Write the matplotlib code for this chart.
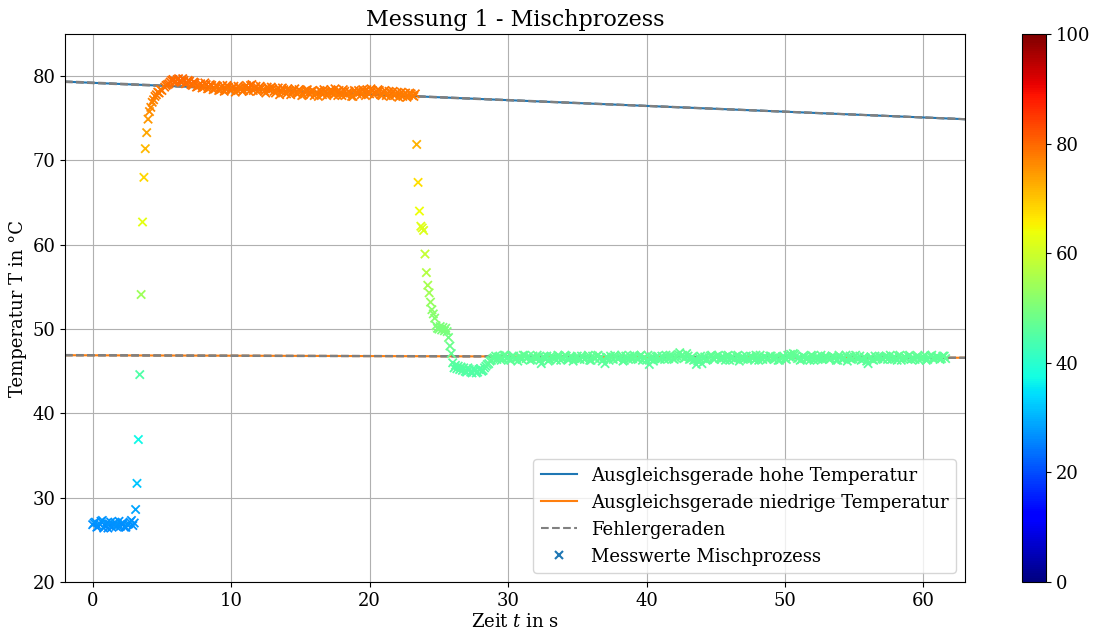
import numpy as np
import matplotlib
matplotlib.use("Agg")
import matplotlib.pyplot as plt
from matplotlib.lines import Line2D

plt.rcParams['font.family'] = ['DejaVu Serif']
plt.rcParams['mathtext.fontset'] = 'dejavuserif'
plt.rcParams['font.size'] = 13

# ---- data ----
t_cold = [0.0, 0.2, 0.4, 0.6, 0.8, 1.0, 1.2, 1.4, 1.6, 1.8, 2.0, 2.2, 2.4, 2.6, 2.8, 3.0]
T_cold = [26.8, 27.1, 26.6, 27.2, 26.4, 27.0, 26.9, 26.5, 27.1, 26.7, 26.6, 27.0, 26.5, 26.9, 27.3, 27.0]
t_cold2 = [0.1, 0.3, 0.5, 0.7, 0.9, 1.1, 1.3, 1.5, 1.7, 1.9, 2.1, 2.3, 2.5, 2.7, 2.9]
T_cold2 = [27.0, 26.5, 26.9, 27.3, 26.7, 26.4, 27.1, 26.8, 26.6, 27.2, 26.9, 26.5, 26.8, 27.1, 26.7]

t_rise = [3.1, 3.2, 3.3, 3.4, 3.5, 3.6, 3.7, 3.8, 3.9, 4.0,
          4.1, 4.2, 4.3, 4.4, 4.5, 4.6, 4.7, 4.8, 4.9, 5.0]
T_rise = [28.6, 31.7, 36.9, 44.6, 54.1, 62.7, 68.0, 71.4, 73.3, 74.9,
          75.8, 76.3, 76.9, 77.2, 77.6, 77.8, 78.1, 78.0, 78.4, 78.3]

t_hot = [5.2, 5.4, 5.6, 5.8, 6.0, 6.2, 6.4, 6.6, 6.8, 7.0,
         7.2, 7.4, 7.6, 7.8, 8.0, 8.2, 8.4, 8.6, 8.8, 9.0,
         9.2, 9.4, 9.6, 9.8, 10.0, 10.2, 10.4, 10.6, 10.8, 11.0,
         11.2, 11.4, 11.6, 11.8, 12.0, 12.2, 12.4, 12.6, 12.8, 13.0,
         13.2, 13.4, 13.6, 13.8, 14.0, 14.2, 14.4, 14.6, 14.8, 15.0,
         15.2, 15.4, 15.6, 15.8, 16.0, 16.2, 16.4, 16.6, 16.8, 17.0,
         17.2, 17.4, 17.6, 17.8, 18.0, 18.2, 18.4, 18.6, 18.8, 19.0,
         19.2, 19.4, 19.6, 19.8, 20.0, 20.2, 20.4, 20.6, 20.8, 21.0,
         21.2, 21.4, 21.6, 21.8, 22.0, 22.2, 22.4, 22.6, 22.8, 23.0,
         23.2]
T_hot = [78.7, 79.0, 79.3, 79.6, 79.4, 79.7, 79.3, 79.5, 79.2, 79.4,
         78.9, 79.2, 78.8, 79.1, 78.7, 79.0, 78.6, 78.9, 78.5, 78.8,
         78.4, 78.9, 78.5, 78.7, 78.3, 78.8, 78.4, 78.6, 78.2, 78.7,
         78.5, 78.9, 78.3, 78.8, 78.4, 78.6, 78.2, 78.7, 78.3, 78.5,
         78.0, 78.6, 78.2, 78.4, 77.9, 78.3, 78.1, 78.5, 77.9, 78.2,
         77.8, 78.3, 78.0, 78.2, 77.7, 78.1, 78.3, 77.8, 78.2, 77.9,
         78.4, 77.8, 78.1, 78.3, 77.7, 78.2, 77.9, 78.0, 77.6, 78.1,
         78.3, 77.8, 78.2, 78.4, 77.9, 78.3, 78.0, 78.4, 77.8, 78.1,
         77.7, 78.2, 78.0, 77.7, 78.1, 77.8, 77.6, 78.0, 77.7, 77.9,
         77.6]
t_hot2 = [5.3, 5.5, 5.7, 5.9, 6.1, 6.3, 6.5, 6.7, 6.9, 7.1,
          7.3, 7.5, 7.7, 7.9, 8.1, 8.3, 8.5, 8.7, 8.9, 9.1,
          9.3, 9.5, 9.7, 9.9, 10.1, 10.3, 10.5, 10.7, 10.9, 11.1,
          11.3, 11.5, 11.7, 11.9, 12.1, 12.3, 12.5, 12.7, 12.9, 13.1,
          13.3, 13.5, 13.7, 13.9, 14.1, 14.3, 14.5, 14.7, 14.9, 15.1,
          15.3, 15.5, 15.7, 15.9, 16.1, 16.3, 16.5, 16.7, 16.9, 17.1,
          17.3, 17.5, 17.7, 17.9, 18.1, 18.3, 18.5, 18.7, 18.9, 19.1,
          19.3, 19.5, 19.7, 19.9, 20.1, 20.3, 20.5, 20.7, 20.9, 21.1,
          21.3, 21.5, 21.7, 21.9, 22.1, 22.3, 22.5, 22.7, 22.9, 23.1,
          23.3]
T_hot2 = [78.9, 79.1, 79.5, 79.3, 79.6, 79.4, 79.7, 79.1, 79.5, 79.0,
          79.3, 78.7, 79.0, 78.6, 79.2, 78.5, 79.0, 78.4, 78.9, 78.3,
          78.7, 78.2, 78.9, 78.4, 78.6, 78.1, 78.8, 78.5, 78.3, 78.9,
          78.2, 79.0, 78.6, 78.2, 78.8, 78.4, 78.0, 78.5, 78.7, 78.2,
          78.4, 77.8, 78.6, 78.1, 78.5, 77.8, 78.3, 78.0, 78.4, 77.7,
          78.1, 78.4, 77.8, 78.3, 77.9, 77.6, 78.2, 78.4, 77.7, 78.1,
          78.0, 78.5, 77.7, 78.0, 78.4, 77.8, 78.2, 77.6, 78.3, 77.9,
          78.1, 78.4, 77.7, 78.0, 78.5, 77.8, 78.2, 78.3, 77.7, 78.3,
          77.9, 77.6, 78.2, 77.9, 77.5, 78.1, 77.8, 77.5, 78.0, 77.7,
          77.9]

t_fall = [23.4, 23.5, 23.6, 23.7, 23.8, 23.9, 24.0, 24.1, 24.2, 24.3,
          24.4, 24.5, 24.6, 24.7, 24.8, 24.9, 25.0, 25.1, 25.2, 25.3,
          25.4, 25.5, 25.6, 25.7, 25.8, 25.9, 26.0, 26.1, 26.2, 26.3,
          26.4, 26.5, 26.6, 26.7, 26.8, 27.0, 27.2, 27.4, 27.6, 27.8,
          28.0, 28.2, 28.4, 28.6, 28.8, 29.0]
T_fall = [71.9, 67.4, 64.0, 62.2, 62.0, 61.7, 58.9, 56.7, 55.2, 54.3,
          53.2, 52.3, 51.8, 51.3, 50.4, 50.1, 50.0, 50.3, 49.9, 50.2,
          49.8, 50.1, 49.7, 49.0, 48.0, 47.1, 46.0, 45.4, 45.7, 45.3,
          45.6, 45.2, 45.5, 45.1, 45.4, 44.9, 45.2, 44.8, 45.1, 44.9,
          45.3, 45.1, 45.6, 45.9, 46.3, 46.6]
t_fall2 = [26.9, 27.1, 27.3, 27.5, 27.7, 27.9, 28.1, 28.3, 28.5, 28.7, 28.9, 29.1]
T_fall2 = [45.0, 45.4, 44.9, 45.3, 44.8, 45.2, 45.0, 45.4, 45.8, 46.2, 46.5, 46.8]

t_mix = [29.2, 29.4, 29.6, 29.8, 30.0, 30.2, 30.4, 30.6, 30.8, 31.0,
         31.2, 31.4, 31.6, 31.8, 32.0, 32.2, 32.4, 32.6, 32.8, 33.0,
         33.2, 33.4, 33.6, 33.8, 34.0, 34.2, 34.4, 34.6, 34.8, 35.0,
         35.2, 35.4, 35.6, 35.8, 36.0, 36.2, 36.4, 36.6, 36.8, 37.0,
         37.2, 37.4, 37.6, 37.8, 38.0, 38.2, 38.4, 38.6, 38.8, 39.0,
         39.2, 39.4, 39.6, 39.8, 40.0, 40.2, 40.4, 40.6, 40.8, 41.0,
         41.2, 41.4, 41.6, 41.8, 42.0, 42.2, 42.4, 42.6, 42.8, 43.0,
         43.2, 43.4, 43.6, 43.8, 44.0, 44.2, 44.4, 44.6, 44.8, 45.0,
         45.2, 45.4, 45.6, 45.8, 46.0, 46.2, 46.4, 46.6, 46.8, 47.0,
         47.2, 47.4, 47.6, 47.8, 48.0, 48.2, 48.4, 48.6, 48.8, 49.0,
         49.2, 49.4, 49.6, 49.8, 50.0, 50.2, 50.4, 50.6, 50.8, 51.0,
         51.2, 51.4, 51.6, 51.8, 52.0, 52.2, 52.4, 52.6, 52.8, 53.0,
         53.2, 53.4, 53.6, 53.8, 54.0, 54.2, 54.4, 54.6, 54.8, 55.0,
         55.2, 55.4, 55.6, 55.8, 56.0, 56.2, 56.4, 56.6, 56.8, 57.0,
         57.2, 57.4, 57.6, 57.8, 58.0, 58.2, 58.4, 58.6, 58.8, 59.0,
         59.2, 59.4, 59.6, 59.8, 60.0, 60.2, 60.4, 60.6, 60.8, 61.0,
         61.2, 61.4, 61.6]
T_mix = [46.4, 46.8, 46.5, 46.9, 46.6, 46.3, 46.8, 46.5, 46.7, 46.4,
         46.9, 46.6, 46.3, 46.8, 46.5, 46.7, 45.9, 46.6, 46.8, 46.4,
         46.7, 46.5, 46.9, 46.3, 46.6, 46.8, 46.4, 46.7, 46.5, 46.8,
         46.4, 46.7, 46.5, 46.9, 46.3, 46.6, 46.8, 46.5, 46.2, 45.9,
         46.6, 46.8, 46.4, 46.7, 46.5, 46.9, 46.3, 46.6, 46.8, 46.5,
         46.7, 46.4, 46.9, 46.6, 46.3, 45.8, 46.7, 46.5, 46.8, 46.4,
         46.6, 46.9, 46.5, 46.7, 46.4, 46.8, 47.2, 46.9, 46.6, 46.8,
         46.5, 46.3, 45.8, 46.6, 45.9, 46.7, 46.4, 46.8, 46.5, 46.7,
         46.9, 46.4, 46.6, 46.8, 46.3, 46.7, 46.5, 46.9, 46.6, 46.4,
         46.8, 46.5, 46.7, 46.3, 46.6, 46.9, 46.4, 46.7, 46.5, 46.8,
         46.4, 46.6, 46.3, 46.7, 46.5, 46.9, 47.0, 47.1, 46.8, 46.6,
         46.4, 46.7, 46.5, 46.3, 46.8, 46.6, 46.4, 46.9, 46.5, 46.7,
         46.4, 46.8, 46.6, 46.3, 46.7, 46.5, 46.9, 46.6, 46.4, 46.7,
         46.5, 46.8, 46.4, 46.6, 45.9, 46.7, 46.3, 46.6, 46.8, 46.5,
         46.7, 46.4, 46.9, 46.6, 46.5, 46.8, 46.3, 46.7, 46.5, 46.9,
         46.6, 46.4, 46.8, 46.5, 46.7, 46.3, 46.6, 46.9, 46.5, 46.7,
         46.4, 46.8, 46.5]
t_mix2 = [29.3, 29.5, 29.7, 29.9, 30.1, 30.3, 30.5, 30.7, 30.9, 31.1,
          31.3, 31.5, 31.7, 31.9, 32.1, 32.3, 32.5, 32.7, 32.9, 33.1,
          33.3, 33.5, 33.7, 33.9, 34.1, 34.3, 34.5, 34.7, 34.9, 35.1,
          35.3, 35.5, 35.7, 35.9, 36.1, 36.3, 36.5, 36.7, 36.9, 37.1,
          37.3, 37.5, 37.7, 37.9, 38.1, 38.3, 38.5, 38.7, 38.9, 39.1,
          39.3, 39.5, 39.7, 39.9, 40.1, 40.3, 40.5, 40.7, 40.9, 41.1,
          41.3, 41.5, 41.7, 41.9, 42.1, 42.3, 42.5, 42.7, 42.9, 43.1,
          43.3, 43.5, 43.7, 43.9, 44.1, 44.3, 44.5, 44.7, 44.9, 45.1,
          45.3, 45.5, 45.7, 45.9, 46.1, 46.3, 46.5, 46.7, 46.9, 47.1,
          47.3, 47.5, 47.7, 47.9, 48.1, 48.3, 48.5, 48.7, 48.9, 49.1,
          49.3, 49.5, 49.7, 49.9, 50.1, 50.3, 50.5, 50.7, 50.9, 51.1,
          51.3, 51.5, 51.7, 51.9, 52.1, 52.3, 52.5, 52.7, 52.9, 53.1,
          53.3, 53.5, 53.7, 53.9, 54.1, 54.3, 54.5, 54.7, 54.9, 55.1,
          55.3, 55.5, 55.7, 55.9, 56.1, 56.3, 56.5, 56.7, 56.9, 57.1,
          57.3, 57.5, 57.7, 57.9, 58.1, 58.3, 58.5, 58.7, 58.9, 59.1,
          59.3, 59.5, 59.7, 59.9, 60.1, 60.3, 60.5, 60.7, 60.9, 61.1,
          61.3, 61.5]
T_mix2 = [46.7, 46.3, 46.9, 46.6, 46.4, 46.8, 46.5, 46.2, 46.7, 46.9,
          46.5, 46.8, 46.4, 46.6, 46.9, 46.3, 46.7, 46.5, 46.2, 46.8,
          46.6, 46.3, 46.8, 46.5, 46.9, 46.4, 46.7, 46.2, 46.6, 46.5,
          46.8, 46.4, 46.7, 46.3, 46.8, 46.5, 46.9, 46.6, 46.4, 46.7,
          46.3, 46.6, 46.9, 46.5, 46.7, 46.2, 46.8, 46.4, 46.6, 46.9,
          46.5, 46.8, 46.3, 46.6, 46.9, 46.4, 46.2, 46.7, 46.5, 46.8,
          46.4, 46.7, 46.9, 46.5, 46.6, 47.0, 46.8, 46.5, 47.1, 46.4,
          46.7, 46.4, 46.2, 46.8, 46.5, 46.3, 46.6, 46.9, 46.4, 46.8,
          46.5, 46.7, 46.3, 46.9, 46.6, 46.4, 46.8, 46.2, 46.7, 46.5,
          46.4, 46.8, 46.6, 46.9, 46.3, 46.5, 46.7, 46.4, 46.8, 46.6,
          46.7, 46.3, 46.5, 46.8, 46.4, 46.7, 46.6, 47.0, 46.5, 46.3,
          46.8, 46.5, 46.6, 46.9, 46.3, 46.7, 46.5, 46.4, 46.8, 46.6,
          46.5, 46.7, 46.3, 46.9, 46.4, 46.6, 46.2, 46.8, 46.5, 46.9,
          46.6, 46.3, 46.7, 46.2, 46.5, 46.4, 46.8, 46.5, 46.7, 46.4,
          46.8, 46.6, 46.4, 46.7, 46.3, 46.9, 46.5, 46.6, 46.8, 46.4,
          46.5, 46.7, 46.3, 46.6, 46.9, 46.4, 46.8, 46.5, 46.7, 46.6,
          46.5, 46.8]

# fit lines: (intercept, slope)
fit_high = (79.21, -0.0685)
fit_low = (46.89, -0.0046)
err_high = [(79.25, -0.0690), (79.17, -0.0680)]
err_low = [(46.92, -0.0050), (46.86, -0.0042)]

x_range = (-2, 63)
y_range = (20, 85)

# ---- plotting ----
t_all = np.array(t_cold + t_cold2 + t_rise + t_hot + t_hot2 + t_fall + t_fall2 + t_mix + t_mix2)
T_all = np.array(T_cold + T_cold2 + T_rise + T_hot + T_hot2 + T_fall + T_fall2 + T_mix + T_mix2)

fig = plt.figure(figsize=(10.94, 6.32), dpi=100)
ax = fig.add_axes([0.0594, 0.0791, 0.8227, 0.8671])
cax = fig.add_axes([0.9342, 0.0791, 0.0220, 0.8671])

xl = np.array(x_range, dtype=float)
ax.plot(xl, fit_high[0] + fit_high[1] * xl, color='C0', lw=1.5,
        label='Ausgleichsgerade hohe Temperatur')
ax.plot(xl, fit_low[0] + fit_low[1] * xl, color='C1', lw=1.5,
        label='Ausgleichsgerade niedrige Temperatur')
for i, (a, b) in enumerate(err_high + err_low):
    ax.plot(xl, a + b * xl, color='gray', ls='--', lw=1.5,
            label='Fehlergeraden' if i == 0 else None)

sc = ax.scatter(t_all, T_all, c=T_all, cmap='jet', vmin=0, vmax=100,
                marker='x', s=36, linewidths=1.3, zorder=3,
                label='Messwerte Mischprozess')

ax.set_xlim(*x_range)
ax.set_ylim(*y_range)
ax.grid(True, color='#b0b0b0', lw=0.8)
ax.set_axisbelow(True)
ax.set_title('Messung 1 - Mischprozess', fontsize=16)
ax.set_xlabel('Zeit $t$ in s', fontsize=13, labelpad=2)
ax.set_ylabel('Temperatur T in °C', fontsize=13)
ax.tick_params(labelsize=13)

handles, labels = ax.get_legend_handles_labels()
mk = Line2D([], [], ls='none', marker='x', color='#1f77b4', markersize=6, mew=1.5)
handles[-1] = mk
ax.legend(handles, labels, loc='lower right', fontsize=13, framealpha=0.8)

cb = fig.colorbar(sc, cax=cax)
cb.set_ticks([0, 20, 40, 60, 80, 100])
cb.ax.tick_params(labelsize=13)

fig.savefig('out.png', dpi=100)
